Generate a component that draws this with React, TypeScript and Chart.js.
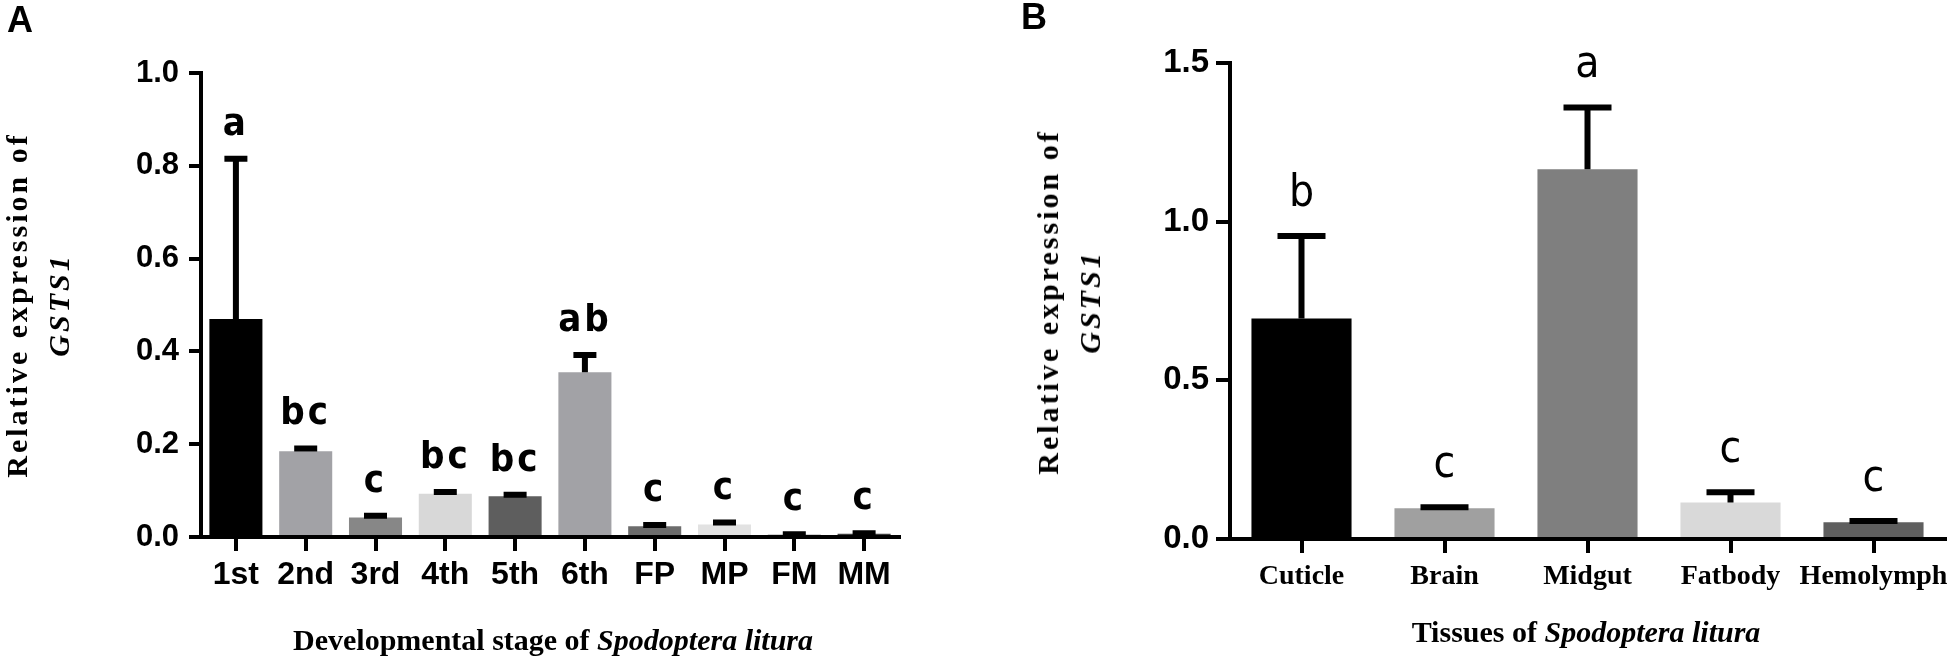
import React, { useEffect, useRef } from 'react';
import { Chart, registerables } from 'chart.js';

Chart.register(...registerables);

// Panel A: developmental stages
const stages = ['1st', '2nd', '3rd', '4th', '5th', '6th', 'FP', 'MP', 'FM', 'MM'];
const stageMeans = [0.47, 0.185, 0.042, 0.093, 0.088, 0.355, 0.023, 0.027, 0.005, 0.007];
const stageErrors = [0.345, 0.006, 0.004, 0.004, 0.003, 0.037, 0.003, 0.004, 0.001, 0.001];
const stageLetters = ['a', 'bc', 'c', 'bc', 'bc', 'ab', 'c', 'c', 'c', 'c'];
const stageTicks = [0, 0.2, 0.4, 0.6, 0.8, 1.0];
const stageColors = ['#000000', '#a2a2a6', '#878787', '#d8d8d8', '#5e5e5e', '#a2a2a6', '#6c6c6c', '#e2e2e2', '#4a4a4a', '#3c3c3c'];

// Panel B: tissues
const tissues = ['Cuticle', 'Brain', 'Midgut', 'Fatbody', 'Hemolymph'];
const tissueMeans = [0.695, 0.097, 1.165, 0.115, 0.053];
const tissueErrors = [0.26, 0.003, 0.195, 0.032, 0.004];
const tissueLetters = ['b', 'c', 'a', 'c', 'c'];
const tissueTicks = [0, 0.5, 1.0, 1.5];
const tissueColors = ['#000000', '#a0a0a0', '#7f7f7f', '#d9d9d9', '#5f5f5f'];

const SANS = '"Liberation Sans", Arial, sans-serif';
const NARROW = '"Liberation Sans Narrow", "Arial Narrow", "DejaVu Sans Condensed", sans-serif';
const SERIF = '"Liberation Serif", "Times New Roman", serif';

// draws the error bar (upper half only) and the significance letter above it
const errorLetterPlugin = {
  id: 'errLetters',
  afterDatasetsDraw(chart: any, _args: any, opts: any) {
    const { ctx } = chart;
    const y = chart.scales.y;
    const meta = chart.getDatasetMeta(0);
    const values = chart.data.datasets[0].data as number[];
    ctx.save();
    meta.data.forEach((bar: any, i: number) => {
      const base = y.getPixelForValue(values[i]);
      const top = y.getPixelForValue(values[i] + opts.errors[i]);
      ctx.strokeStyle = '#000';
      ctx.lineWidth = opts.lineWidth;
      ctx.lineCap = 'butt';
      ctx.beginPath();
      ctx.moveTo(bar.x, base);
      ctx.lineTo(bar.x, top);
      ctx.moveTo(bar.x - opts.capWidth / 2, top);
      ctx.lineTo(bar.x + opts.capWidth / 2, top);
      ctx.stroke();

      ctx.fillStyle = '#000';
      ctx.font = opts.font;
      ctx.textAlign = 'center';
      ctx.textBaseline = 'alphabetic';
      ctx.letterSpacing = opts.letterSpacing || '0px';
      ctx.fillText(opts.letters[i], bar.x, top - opts.gap);
    });
    ctx.restore();
  },
};

const axisGrid = (tickLength: number) => ({
  display: true,
  drawOnChartArea: false,
  offset: false,
  color: '#000',
  lineWidth: 4,
  tickLength,
});

const StageChart: React.FC = () => {
  const ref = useRef<HTMLCanvasElement>(null);
  useEffect(() => {
    if (!ref.current) return;
    const chart = new Chart(ref.current, {
      type: 'bar',
      data: {
        labels: stages,
        datasets: [{
          data: stageMeans,
          backgroundColor: stageColors,
          borderWidth: 0,
          barPercentage: 0.76,
          categoryPercentage: 1,
        }],
      },
      plugins: [errorLetterPlugin],
      options: {
        animation: false,
        responsive: false,
        layout: { padding: { left: 121, top: 73, right: 61, bottom: 67 } },
        plugins: {
          legend: { display: false },
          tooltip: { enabled: false },
          errLetters: {
            errors: stageErrors,
            letters: stageLetters,
            lineWidth: 6,
            capWidth: 23,
            gap: 24,
            font: `bold 38px ${NARROW}`,
            letterSpacing: '3px',
          },
        },
        scales: {
          x: {
            grid: axisGrid(14),
            border: { display: true, color: '#000', width: 4 },
            ticks: {
              color: '#000',
              font: { family: SANS, weight: 'bold', size: 32 },
              padding: 5,
              maxRotation: 0,
              autoSkip: false,
            },
            afterFit: (s: any) => { s.height = 60; },
          },
          y: {
            min: 0,
            max: 1,
            afterBuildTicks: (s: any) => { s.ticks = stageTicks.map((v) => ({ value: v })); },
            grid: axisGrid(12),
            border: { display: true, color: '#000', width: 4 },
            ticks: {
              color: '#000',
              font: { family: SANS, weight: 'bold', size: 31 },
              padding: 10,
              callback: (v: any) => Number(v).toFixed(1),
            },
            afterFit: (s: any) => { s.width = 80; },
          },
        },
      } as any,
    });
    return () => chart.destroy();
  }, []);
  return <canvas ref={ref} width={960} height={664} style={{ position: 'absolute', left: 0, top: 0 }} />;
};

const TissueChart: React.FC = () => {
  const ref = useRef<HTMLCanvasElement>(null);
  useEffect(() => {
    if (!ref.current) return;
    const chart = new Chart(ref.current, {
      type: 'bar',
      data: {
        labels: tissues,
        datasets: [{
          data: tissueMeans,
          backgroundColor: tissueColors,
          borderWidth: 0,
          barPercentage: 0.7,
          categoryPercentage: 1,
        }],
      },
      plugins: [errorLetterPlugin],
      options: {
        animation: false,
        responsive: false,
        layout: { padding: { left: 190, top: 63, right: 11, bottom: 65 } },
        plugins: {
          legend: { display: false },
          tooltip: { enabled: false },
          errLetters: {
            errors: tissueErrors,
            letters: tissueLetters,
            lineWidth: 6,
            capWidth: 48,
            gap: 30,
            font: `44px ${NARROW}`,
          },
        },
        scales: {
          x: {
            grid: axisGrid(14),
            border: { display: true, color: '#000', width: 4 },
            ticks: {
              color: '#000',
              font: { family: SERIF, weight: 'bold', size: 28 },
              padding: 7,
              maxRotation: 0,
              autoSkip: false,
            },
            afterFit: (s: any) => { s.height = 60; },
          },
          y: {
            min: 0,
            max: 1.5,
            afterBuildTicks: (s: any) => { s.ticks = tissueTicks.map((v) => ({ value: v })); },
            grid: axisGrid(14),
            border: { display: true, color: '#000', width: 4 },
            ticks: {
              color: '#000',
              font: { family: SANS, weight: 'bold', size: 33 },
              padding: 7,
              callback: (v: any) => Number(v).toFixed(1),
            },
            afterFit: (s: any) => { s.width = 80; },
          },
        },
      } as any,
    });
    return () => chart.destroy();
  }, []);
  return <canvas ref={ref} width={996} height={664} style={{ position: 'absolute', left: 960, top: 0 }} />;
};

const yTitle: React.CSSProperties = {
  position: 'absolute',
  transform: 'translate(-50%, -50%) rotate(-90deg)',
  textAlign: 'center',
  whiteSpace: 'nowrap',
  font: `bold 30px ${SERIF}`,
  lineHeight: '42px',
  letterSpacing: '3px',
  color: '#000',
};

const xTitle: React.CSSProperties = {
  position: 'absolute',
  transform: 'translateX(-50%)',
  whiteSpace: 'nowrap',
  font: `bold 30px ${SERIF}`,
  lineHeight: '30px',
  color: '#000',
};

const panelLabel: React.CSSProperties = {
  position: 'absolute',
  font: `bold 36px ${SANS}`,
  lineHeight: '36px',
  color: '#000',
};

const App: React.FC = () => (
  <div style={{ position: 'relative', width: 1956, height: 664, background: '#fff', overflow: 'hidden' }}>
    <style>{'body { margin: 0; }'}</style>
    <StageChart />
    <TissueChart />

    <div style={{ ...panelLabel, left: 7, top: 2 }}>A</div>
    <div style={{ ...panelLabel, left: 1021, top: -1 }}>B</div>

    <div style={{ ...yTitle, left: 38, top: 305 }}>
      Relative expression of<br /><i>GSTS1</i>
    </div>
    <div style={{ ...yTitle, left: 1069, top: 302 }}>
      Relative expression of<br /><i>GSTS1</i>
    </div>

    <div style={{ ...xTitle, left: 553, top: 625 }}>
      Developmental stage of <i>Spodoptera litura</i>
    </div>
    <div style={{ ...xTitle, left: 1586, top: 617 }}>
      Tissues of <i>Spodoptera litura</i>
    </div>
  </div>
);

export default App;
